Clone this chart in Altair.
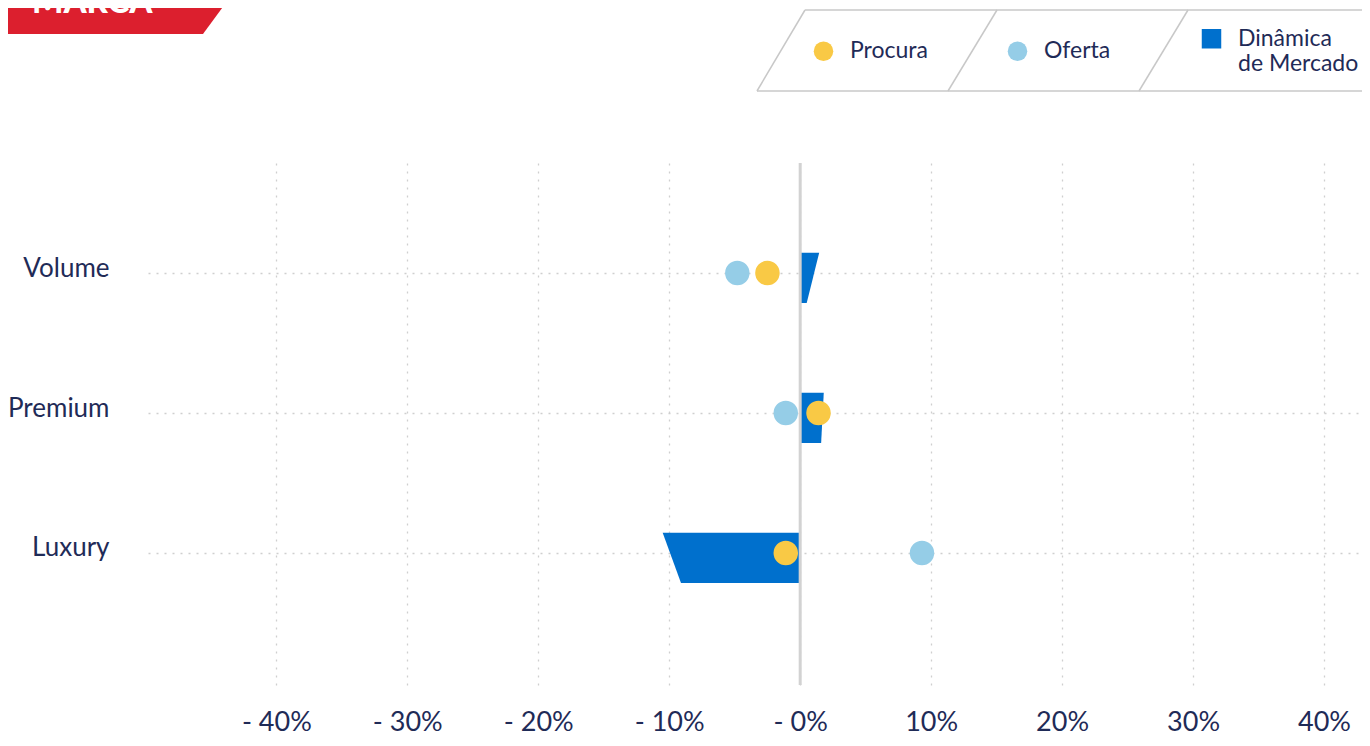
import json
import altair as alt
import pandas as pd

# ---------------- data ----------------
categories = ["Volume", "Premium", "Luxury"]
procura = [-2.5, 1.4, -1.1]
oferta = [-4.8, -1.1, 9.3]
dinamica_top = [1.45, 1.8, -10.5]      # outer edge of the slanted bar, top side
dinamica_bottom = [0.5, 1.6, -9.1]     # outer edge of the slanted bar, bottom side
x_ticks = [-40, -30, -20, -10, 0, 10, 20, 30, 40]
series = ["Procura", "Oferta", "Dinâmica de Mercado"]
colors = ["#F9C945", "#95CDE7", "#0070CD"]

# ---------------- style ----------------
NAVY = "#1F2B57"
GRID = "#CFCFCF"
FONT = "Lato"
BAR_HALF = 0.18
BAR_SHIFT = 0.035

idx = list(range(len(categories)))

points = pd.DataFrame({
    "pos": idx + idx,
    "cat": categories + categories,
    "value": procura + oferta,
    "serie": ["Procura"] * len(idx) + ["Oferta"] * len(idx),
})
bars = pd.DataFrame({
    "pos": [i + BAR_SHIFT - BAR_HALF for i in idx] + [i + BAR_SHIFT + BAR_HALF for i in idx],
    "cat": categories + categories,
    "value": dinamica_top + dinamica_bottom,
    "serie": [series[2]] * (2 * len(idx)),
})
zero = pd.DataFrame({"value": [0]})
one = pd.DataFrame({"a": [0]})

x_scale = alt.Scale(domain=[-49.8, 42.9], nice=False, zero=False)
y_scale = alt.Scale(domain=[-0.786, 2.943], reverse=True, nice=False, zero=False)
color_scale = alt.Scale(domain=series, range=colors)

x_axis = alt.Axis(
    values=x_ticks,
    labelExpr="datum.value <= 0 ? '- ' + abs(datum.value) + '%' : datum.value + '%'",
    grid=True, gridDash=[2, 6], gridColor=GRID, gridWidth=1.3,
    domain=False, ticks=False, title=None,
    labelFont=FONT, labelFontSize=27, labelColor=NAVY,
    labelBaseline="alphabetic", labelPadding=45,
    labelFlush=False, labelOverlap=False,
)
y_axis = alt.Axis(
    values=idx,
    labelExpr=json.dumps(categories) + "[datum.value]",
    grid=True, gridDash=[2, 6], gridColor=GRID, gridWidth=1.3,
    domain=False, ticks=False, title=None,
    labelFont=FONT, labelFontSize=26, labelColor=NAVY,
    labelAlign="right", labelBaseline="alphabetic", labelOffset=3,
    labelPadding=39,
)
legend = alt.Legend(
    orient="none", legendX=664, legendY=-136, direction="horizontal",
    title=None, padding=0, gridAlign="all", columnPadding=35,
    labelFont=FONT, labelFontSize=23, labelColor=NAVY, labelOffset=15, labelLimit=0,
    symbolSize=380, symbolStrokeWidth=0, symbolOpacity=1,
    labelExpr="datum.value === 'Dinâmica de Mercado' ? ['Dinâmica', 'de Mercado'] : datum.label",
    symbolType={"expr": "datum.value === 'Dinâmica de Mercado' ? 'square' : 'circle'"},
)

x_enc = alt.X("value:Q", scale=x_scale, axis=x_axis, stack=None)
y_enc = alt.Y("pos:Q", scale=y_scale, axis=y_axis)
color_enc = alt.Color("serie:N", scale=color_scale, legend=legend)

bar_layer = alt.Chart(bars).mark_area(orient="horizontal", opacity=1).encode(
    y=y_enc, x=x_enc, x2=alt.datum(0), color=color_enc, detail="cat:N"
)
zero_layer = alt.Chart(zero).mark_rule(color="#D2D2D2", strokeWidth=3).encode(x=x_enc)
point_layer = alt.Chart(points).mark_circle(size=600, opacity=1).encode(
    y=y_enc, x=x_enc, color=color_enc
)

# ---------------- decorations (header banner and legend frame) ----------------
banner = alt.Chart(one).mark_point(
    shape="M -1.2 -0.33 L 1.447 -0.33 L 1.05 0.21 L -1.2 0.21 Z",
    size=40000, filled=True, color="#DC1F2E", opacity=1, strokeWidth=0,
).encode(x=alt.value(-50), y=alt.value(-150))
banner_text = alt.Chart(one).mark_text(
    text="MARCA", font=FONT, fontSize=33, fontWeight=900, color="white",
    align="left", baseline="alphabetic",
).encode(x=alt.value(-116), y=alt.value(-150))


def seg(x1, y1, x2, y2):
    return alt.Chart(one).mark_rule(color="#C8C8C8", strokeWidth=1.5).encode(
        x=alt.value(x1), y=alt.value(y1), x2=alt.value(x2), y2=alt.value(y2)
    )


frame = [
    seg(609, -72, 1214, -72),
    seg(657, -153, 1214, -153),
    seg(609, -72, 657, -153),
    seg(800, -72, 849, -153),
    seg(991, -72, 1040, -153),
]

chart = alt.layer(
    bar_layer, zero_layer, point_layer, banner, banner_text, *frame
).properties(
    width=1214, height=522,
    padding={"left": 140, "top": 155, "right": 0, "bottom": 51},
    autosize=alt.AutoSizeParams(type="none"),
).configure_view(stroke=None)

chart.save("out.html", embed_options={"renderer": "svg", "actions": False})
